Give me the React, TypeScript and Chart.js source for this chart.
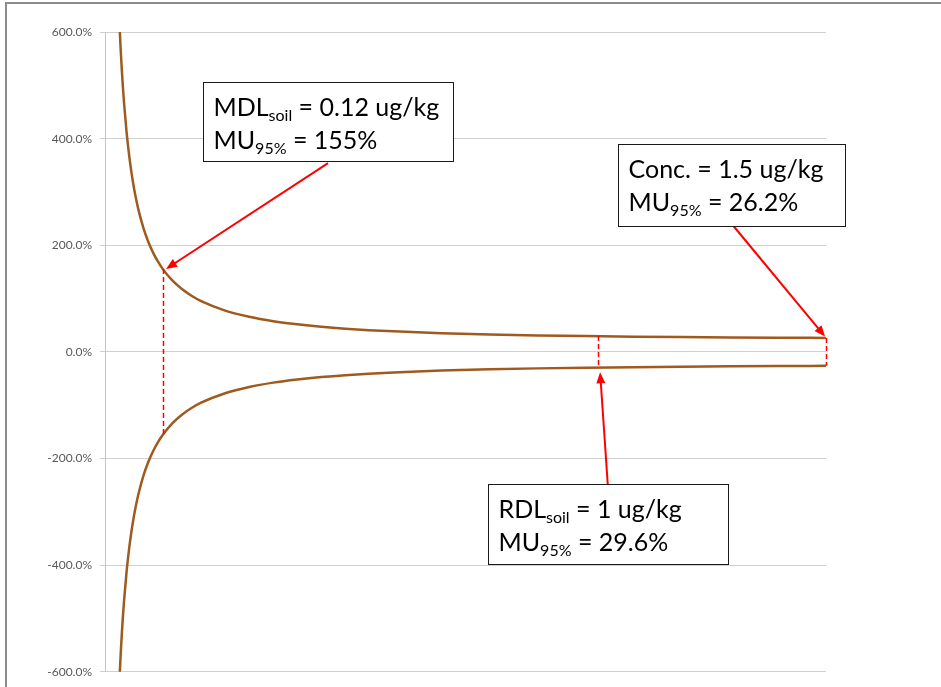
import React, { useEffect, useRef } from 'react';
import { Chart, registerables } from 'chart.js';

Chart.register(...registerables);

const concentrations = [
  0.03, 0.0325, 0.035, 0.0375, 0.04, 0.045, 0.05, 0.055, 0.06, 0.065, 0.07, 0.08, 0.09, 0.1, 0.11, 0.12,
  0.14, 0.16, 0.18, 0.2, 0.25, 0.3, 0.35, 0.4, 0.45, 0.5, 0.6, 0.7, 0.8, 0.9, 1.0, 1.1, 1.2, 1.3, 1.4, 1.5,
];
const muUpper = [
  616.4, 569.1, 528.5, 493.3, 462.6, 411.3, 370.3, 336.8, 308.9, 285.2, 265.0, 232.2, 206.6, 186.2, 169.6, 155.7,
  134.0, 117.8, 105.2, 95.2, 77.5, 65.8, 57.6, 51.7, 47.1, 43.6, 38.5, 35.1, 32.7, 30.9, 29.6, 28.6, 27.8, 27.1, 26.6, 26.2,
];
const muLower = [
  -616.4, -569.1, -528.5, -493.3, -462.6, -411.3, -370.3, -336.8, -308.9, -285.2, -265.0, -232.2, -206.6, -186.2, -169.6, -155.7,
  -134.0, -117.8, -105.2, -95.2, -77.5, -65.8, -57.6, -51.7, -47.1, -43.6, -38.5, -35.1, -32.7, -30.9, -29.6, -28.6, -27.8, -27.1, -26.6, -26.2,
];
const yTickValues = [-600, -400, -200, 0, 200, 400, 600];

// Marker lines (conc, MU)
const markerLines = [
  { x: 0.12, mu: 155.7 },
  { x: 1.026, mu: 29.6 },
  { x: 1.5, mu: 26.2 },
];

// Annotation boxes in data units: [x0, x1, yTop, yBottom]
const annotationBoxes = [
  {
    box: [0.204, 0.724, 506.7, 357.4],
    lines: [
      [{ t: 'MDL' }, { t: 'soil', sub: true }, { t: ' = 0.12 ug/kg' }],
      [{ t: 'MU' }, { t: '95%', sub: true }, { t: ' = 155%' }],
    ],
    arrow: [0.464, 354.2, 0.127, 155.7],
  },
  {
    box: [1.067, 1.54, 389.1, 236.1],
    lines: [
      [{ t: 'Conc. = 1.5 ug/kg' }],
      [{ t: 'MU' }, { t: '95%', sub: true }, { t: ' = 26.2%' }],
    ],
    arrow: [1.304, 239.9, 1.498, 28.9],
  },
  {
    box: [0.797, 1.296, -247.3, -398.5],
    lines: [
      [{ t: 'RDL' }, { t: 'soil', sub: true }, { t: ' = 1 ug/kg' }],
      [{ t: 'MU' }, { t: '95%', sub: true }, { t: ' = 29.6%' }],
    ],
    arrow: [1.046, -248.8, 1.03, -38.2],
  },
];

const FONT = 'Lato, "Open Sans", sans-serif';

const annotationPlugin = {
  id: 'annotations',
  beforeDraw(chart: any) {
    const ctx = chart.ctx;
    ctx.save();
    ctx.fillStyle = '#ffffff';
    ctx.fillRect(0, 0, chart.width, chart.height);
    ctx.strokeStyle = '#8c8c8c';
    ctx.lineWidth = 2;
    ctx.beginPath();
    ctx.moveTo(6, chart.height + 10);
    ctx.lineTo(6, 3);
    ctx.lineTo(chart.width + 10, 3);
    ctx.stroke();
    ctx.restore();
  },
  afterDraw(chart: any) {
    const ctx = chart.ctx;
    const xs = chart.scales.x;
    const ys = chart.scales.y;
    ctx.save();
    // dashed marker lines
    ctx.strokeStyle = '#ff0000';
    ctx.lineWidth = 1.5;
    ctx.setLineDash([5, 3]);
    for (const m of markerLines) {
      const px = Math.round(xs.getPixelForValue(m.x)) + 0.5;
      ctx.beginPath();
      ctx.moveTo(px, ys.getPixelForValue(m.mu));
      ctx.lineTo(px, ys.getPixelForValue(-m.mu));
      ctx.stroke();
    }
    ctx.setLineDash([]);

    for (const a of annotationBoxes) {
      // arrow
      const [ax0, ay0, ax1, ay1] = a.arrow;
      const x0 = xs.getPixelForValue(ax0);
      const y0 = ys.getPixelForValue(ay0);
      const x1 = xs.getPixelForValue(ax1);
      const y1 = ys.getPixelForValue(ay1);
      const ang = Math.atan2(y1 - y0, x1 - x0);
      const headLen = 11;
      const headW = 4.5;
      ctx.strokeStyle = '#ff0000';
      ctx.fillStyle = '#ff0000';
      ctx.lineWidth = 2;
      ctx.beginPath();
      ctx.moveTo(x0, y0);
      ctx.lineTo(x1 - Math.cos(ang) * (headLen - 2), y1 - Math.sin(ang) * (headLen - 2));
      ctx.stroke();
      ctx.beginPath();
      ctx.moveTo(x1, y1);
      ctx.lineTo(
        x1 - Math.cos(ang) * headLen + Math.sin(ang) * headW,
        y1 - Math.sin(ang) * headLen - Math.cos(ang) * headW
      );
      ctx.lineTo(
        x1 - Math.cos(ang) * headLen - Math.sin(ang) * headW,
        y1 - Math.sin(ang) * headLen + Math.cos(ang) * headW
      );
      ctx.closePath();
      ctx.fill();

      // box
      const [bx0, bx1, byT, byB] = a.box;
      const l = Math.round(xs.getPixelForValue(bx0)) + 0.5;
      const r = Math.round(xs.getPixelForValue(bx1)) + 0.5;
      const t = Math.round(ys.getPixelForValue(byT)) + 0.5;
      const b = Math.round(ys.getPixelForValue(byB)) + 0.5;
      ctx.fillStyle = '#ffffff';
      ctx.fillRect(l, t, r - l, b - t);
      ctx.strokeStyle = '#1a1a1a';
      ctx.lineWidth = 1;
      ctx.strokeRect(l, t, r - l, b - t);

      // text
      ctx.fillStyle = '#000000';
      ctx.textBaseline = 'alphabetic';
      ctx.textAlign = 'left';
      a.lines.forEach((parts: any[], i: number) => {
        let cx = l + 10;
        const baseY = t + 33 + i * 33;
        for (const p of parts) {
          if (p.sub) {
            ctx.font = `16px ${FONT}`;
            ctx.fillText(p.t, cx, baseY + 5);
          } else {
            ctx.font = `25px ${FONT}`;
            ctx.fillText(p.t, cx, baseY);
          }
          cx += ctx.measureText(p.t).width;
        }
      });
    }
    ctx.restore();
  },
};

export default function App() {
  const canvasRef = useRef<HTMLCanvasElement | null>(null);

  useEffect(() => {
    const canvas = canvasRef.current;
    if (!canvas) return;
    const upperData = concentrations.map((c, i) => ({ x: c, y: muUpper[i] }));
    const lowerData = concentrations.map((c, i) => ({ x: c, y: muLower[i] }));
    const chart = new Chart(canvas, {
      type: 'line',
      data: {
        datasets: [
          {
            label: 'MU upper',
            data: upperData,
            borderColor: '#9e5a1f',
            borderWidth: 2.5,
            pointRadius: 0,
            cubicInterpolationMode: 'monotone',
            fill: false,
          },
          {
            label: 'MU lower',
            data: lowerData,
            borderColor: '#9e5a1f',
            borderWidth: 2.5,
            pointRadius: 0,
            cubicInterpolationMode: 'monotone',
            fill: false,
          },
        ],
      },
      options: {
        responsive: false,
        animation: false,
        layout: { padding: { top: 32, bottom: 12, right: 115, left: 0 } },
        plugins: {
          legend: { display: false },
          tooltip: { enabled: false },
          title: { display: false },
        },
        scales: {
          x: {
            type: 'linear',
            min: 0,
            max: 1.5,
            display: false,
          },
          y: {
            min: -600,
            max: 600,
            afterFit: (scale: any) => {
              scale.width = 105;
            },
            afterBuildTicks: (scale: any) => {
              scale.ticks = yTickValues.map((v) => ({ value: v }));
            },
            ticks: {
              padding: 8,
              color: '#595959',
              font: { family: FONT, size: 12 },
              callback: (v: any) => Number(v).toFixed(1) + '%',
            },
            grid: {
              color: '#d0d0d0',
              lineWidth: 1,
              tickLength: 5,
              drawTicks: true,
            },
            border: { display: true, color: '#c4c4c4', width: 1 },
          },
        },
      },
      plugins: [annotationPlugin],
    });
    return () => chart.destroy();
  }, []);

  return (
    <div style={{ position: 'fixed', left: 0, top: 0, width: 941, height: 687, background: '#fff' }}>
      <canvas ref={canvasRef} width={941} height={687} style={{ display: 'block' }} />
    </div>
  );
}
